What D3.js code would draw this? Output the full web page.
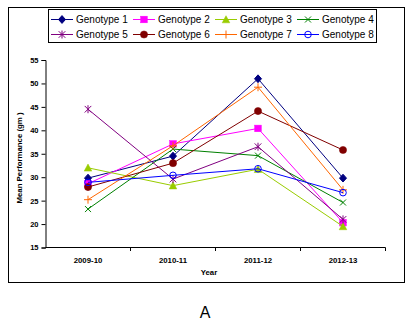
<!DOCTYPE html>
<html>
<head>
<meta charset="utf-8">
<script src="https://cdn.jsdelivr.net/npm/d3@7"></script>
<style>
  html, body { margin: 0; padding: 0; background: #fff; }
  svg { display: block; }
  text { font-family: "Liberation Sans", Arial, sans-serif; }
</style>
</head>
<body>
<svg id="chart" width="415" height="325"></svg>
<script>
// Years on the category axis
const years = ["2009-10", "2010-11", "2011-12", "2012-13"];

// Mean performance (gm) per genotype, one value per year
const genotype1 = [29.8, 34.5, 51.0, 29.8];
const genotype2 = [28.6, 37.1, 40.4, 20.3];
const genotype3 = [32.0, 28.2, 31.7, 19.5];
const genotype4 = [23.2, 36.0, 34.6, 24.6];
const genotype5 = [44.5, 29.6, 36.5, 21.0];
const genotype6 = [27.9, 33.0, 44.1, 35.8];
const genotype7 = [25.2, 36.7, 49.2, 27.3];
const genotype8 = [28.9, 30.4, 31.8, 26.7];

const seriesNames = ["Genotype 1", "Genotype 2", "Genotype 3", "Genotype 4",
                     "Genotype 5", "Genotype 6", "Genotype 7", "Genotype 8"];
const yTicks = [15, 20, 25, 30, 35, 40, 45, 50, 55];

const seriesValues = [genotype1, genotype2, genotype3, genotype4,
                      genotype5, genotype6, genotype7, genotype8];
const colors = ["#000080", "#FF00FF", "#99CC00", "#008000",
                "#800080", "#800000", "#FF6600", "#0000FF"];
const markers = ["diamond", "square", "triangle", "x", "star", "circle", "plus", "ocircle"];

const svg = d3.select("#chart");

// Outer frame
svg.append("rect").attr("x", 8.5).attr("y", 7.5).attr("width", 396).attr("height", 275)
  .attr("fill", "#fff").attr("stroke", "#000").attr("stroke-width", 1);

const plotLeft = 45.5, plotRight = 385.5, plotTop = 60, plotBottom = 247.5;

const x = d3.scaleBand().domain(years).range([plotLeft, plotRight]);
const y = d3.scaleLinear().domain([15, 55]).range([plotBottom, plotTop]);

// Y axis
const yAxis = svg.append("g").attr("transform", `translate(${plotLeft},0)`)
  .call(d3.axisLeft(y).tickValues(yTicks).tickSize(4).tickPadding(3));
yAxis.selectAll("text").attr("font-size", 7.5).attr("font-weight", "bold")
  .attr("font-family", "Liberation Sans, Arial, sans-serif").attr("fill", "#000");
yAxis.select(".domain").attr("stroke", "#000");
yAxis.selectAll(".tick line").attr("stroke", "#000");

// X axis: ticks between categories
const xAxisG = svg.append("g").attr("transform", `translate(0,${plotBottom})`);
xAxisG.append("line").attr("x1", plotLeft).attr("x2", plotRight).attr("y1", 0).attr("y2", 0)
  .attr("stroke", "#000");
const boundaries = years.map(d => x(d) + x.bandwidth());
xAxisG.selectAll("line.tk").data(boundaries).enter().append("line")
  .attr("class", "tk")
  .attr("x1", d => d).attr("x2", d => d).attr("y1", 0).attr("y2", 3.5)
  .attr("stroke", "#000");
xAxisG.selectAll("text").data(years).enter().append("text")
  .attr("x", d => x(d) + x.bandwidth() / 2)
  .attr("y", 15)
  .attr("text-anchor", "middle")
  .attr("font-size", 7.8).attr("font-weight", "bold")
  .text(d => d);

// Axis titles
svg.append("text").attr("x", 209).attr("y", 275).attr("text-anchor", "middle")
  .attr("font-size", 7.8).attr("font-weight", "bold").text("Year");
svg.append("text")
  .attr("transform", "translate(22,158) rotate(-90)")
  .attr("text-anchor", "middle")
  .attr("font-size", 7.8).attr("font-weight", "bold").text("Mean Performance (gm )");

// Panel label
svg.append("text").attr("x", 205).attr("y", 318).attr("text-anchor", "middle")
  .attr("font-family", "Liberation Serif, Times New Roman, serif")
  .attr("font-size", 16).text("A");

// Marker drawing
function drawMarker(g, type, color, cx, cy) {
  const s = 3.3;
  switch (type) {
    case "diamond":
      g.append("path").attr("d", `M${cx},${cy - s - 0.6}L${cx + s + 0.2},${cy}L${cx},${cy + s + 0.6}L${cx - s - 0.2},${cy}Z`)
        .attr("fill", color).attr("stroke", color);
      break;
    case "square":
      g.append("rect").attr("x", cx - s).attr("y", cy - s).attr("width", 2 * s).attr("height", 2 * s)
        .attr("fill", color).attr("stroke", color).attr("stroke-width", 0.5);
      break;
    case "triangle":
      g.append("path").attr("d", `M${cx},${cy - s - 0.5}L${cx + s + 0.5},${cy + s}L${cx - s - 0.5},${cy + s}Z`)
        .attr("fill", color).attr("stroke", color).attr("stroke-width", 0.5);
      break;
    case "x":
      g.append("path").attr("d", `M${cx - 3},${cy - 3}L${cx + 3},${cy + 3}M${cx - 3},${cy + 3}L${cx + 3},${cy - 3}`)
        .attr("stroke", color).attr("stroke-width", 1).attr("fill", "none");
      break;
    case "star":
      g.append("path").attr("d", `M${cx - 3.3},${cy - 3.3}L${cx + 3.3},${cy + 3.3}M${cx - 3.3},${cy + 3.3}L${cx + 3.3},${cy - 3.3}M${cx},${cy - 4}L${cx},${cy + 4}`)
        .attr("stroke", color).attr("stroke-width", 1).attr("fill", "none");
      break;
    case "circle":
      g.append("circle").attr("cx", cx).attr("cy", cy).attr("r", s + 0.3)
        .attr("fill", color).attr("stroke", color).attr("stroke-width", 0.5);
      break;
    case "plus":
      g.append("path").attr("d", `M${cx - 4},${cy}L${cx + 4},${cy}M${cx},${cy - 4}L${cx},${cy + 4}`)
        .attr("stroke", color).attr("stroke-width", 1).attr("fill", "none");
      break;
    case "ocircle":
      g.append("circle").attr("cx", cx).attr("cy", cy).attr("r", 3.3)
        .attr("fill", "none").attr("stroke", color).attr("stroke-width", 1);
      break;
  }
}

// Lines and markers
const line = d3.line()
  .x((d, i) => x(years[i]) + x.bandwidth() / 2)
  .y(d => y(d));

seriesValues.forEach((vals, k) => {
  const g = svg.append("g");
  g.append("path").datum(vals).attr("d", line)
    .attr("fill", "none").attr("stroke", colors[k]).attr("stroke-width", 1);
  vals.forEach((v, i) => {
    drawMarker(g, markers[k], colors[k], x(years[i]) + x.bandwidth() / 2, y(v));
  });
});

// Legend
const legend = svg.append("g");
legend.append("rect").attr("x", 48.5).attr("y", 9.5).attr("width", 328).attr("height", 33)
  .attr("fill", "#fff").attr("stroke", "#000").attr("stroke-width", 1);
seriesNames.forEach((name, k) => {
  const col = k % 4, row = Math.floor(k / 4);
  const lx = 51 + col * 82, ly = 19.5 + row * 15;
  const g = legend.append("g");
  g.append("line").attr("x1", lx).attr("x2", lx + 22).attr("y1", ly).attr("y2", ly)
    .attr("stroke", colors[k]).attr("stroke-width", 1);
  drawMarker(g, markers[k], colors[k], lx + 11, ly);
  g.append("text").attr("x", lx + 25).attr("y", ly + 3.5)
    .attr("font-size", 10).attr("fill", "#000").text(name);
});
</script>
</body>
</html>
